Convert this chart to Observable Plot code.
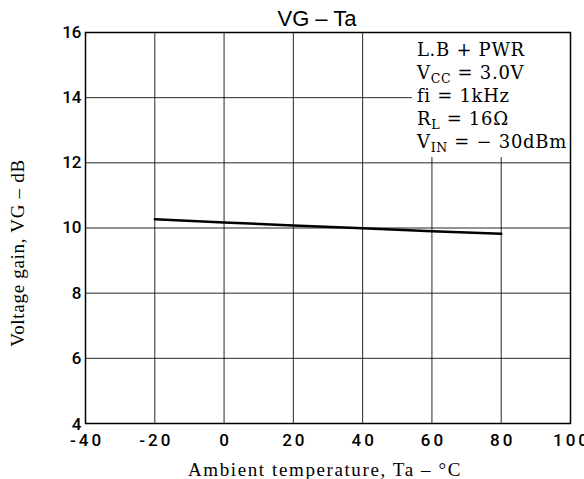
<!DOCTYPE html>
<html>
<head>
<meta charset="utf-8">
<script src="https://cdn.jsdelivr.net/npm/d3@7"></script>
<script src="https://cdn.jsdelivr.net/npm/@observablehq/plot@0.6"></script>
<style>
  html, body { margin: 0; padding: 0; background: white; }
  svg { display: block; }
</style>
</head>
<body>
<script>
// ---- data ----
const temps = [-20, 0, 20, 40, 60, 80];
const gains = [10.27, 10.17, 10.08, 9.99, 9.90, 9.82];
const xTicks = [-40, -20, 0, 20, 40, 60, 80, 100];
const yTicks = [4, 6, 8, 10, 12, 14, 16];
const titleText = "VG \u2013 Ta";
const xLabel = "Ambient temperature, Ta \u2013 \u00B0C";
const yLabel = "Voltage gain, VG \u2013 dB";
// annotation lines: [text, subscript, rest]
const annotationLines = [
  ["L.B + PWR", "", ""],
  ["V", "CC", " = 3.0V"],
  ["fi = 1kHz", "", ""],
  ["R", "L", " = 16\u03A9"],
  ["V", "IN", " = \u2212 30dBm"]
];

const serif = "'Liberation Serif', 'DejaVu Serif', serif";
const annoSerif = "'DejaVu Serif', 'Liberation Serif', serif";
const sans = "Roboto, 'DejaVu Sans', sans-serif";
const titleSans = "'Liberation Sans', Arial, sans-serif";

const data = temps.map((t, i) => ({t, g: gains[i]}));

function annotationMark(index, scales, values, dimensions) {
  const {width, marginRight, marginTop} = dimensions;
  const g = d3.create("svg:g").attr("class", "anno");
  g.append("rect").attr("fill", "white");
  const tg = g.append("g")
    .attr("font-family", annoSerif).attr("font-size", 18).attr("fill", "black")
    .attr("text-anchor", "start").style("letter-spacing", "0.7px");
  annotationLines.forEach(([a, sub, rest], i) => {
    const t = tg.append("text").attr("x", 0).attr("y", marginTop + 24 + i * 23);
    t.append("tspan").text(a);
    if (sub) {
      t.append("tspan").attr("dy", 4).attr("font-size", 12.5).text(sub);
      t.append("tspan").attr("dy", -4).text(rest);
    }
  });
  g.attr("data-right", width - marginRight).attr("data-top", marginTop);
  return g.node();
}

const chart = Plot.plot({
  width: 584,
  height: 479,
  marginLeft: 85,
  marginRight: 14,
  marginTop: 32,
  marginBottom: 56,
  style: {background: "white", color: "black"},
  x: {domain: [-40, 100], label: null},
  y: {domain: [4, 16], label: null},
  marks: [
    Plot.gridX(xTicks, {stroke: "black", strokeOpacity: 0.85, strokeWidth: 1}),
    Plot.gridY(yTicks, {stroke: "black", strokeOpacity: 0.85, strokeWidth: 1}),
    annotationMark,
    Plot.frame({stroke: "black", strokeWidth: 1.5}),
    Plot.line(data, {x: "t", y: "g", stroke: "black", strokeWidth: 2.5}),
    Plot.axisX(xTicks, {tickSize: 0, tickPadding: 10, fontSize: 17, fontWeight: 500, fontFamily: sans, tickFormat: d => String(d)}),
    Plot.axisY(yTicks, {tickSize: 0, tickPadding: 4, fontSize: 17, fontWeight: 500, fontFamily: sans}),
    Plot.text([titleText], {frameAnchor: "top", dx: -11, dy: -7, lineAnchor: "bottom", fontSize: 22, fontFamily: titleSans}),
    Plot.text([xLabel], {frameAnchor: "bottom", dx: -3, dy: 52, lineAnchor: "bottom", fontSize: 19, fontFamily: serif}),
    Plot.text([yLabel], {frameAnchor: "left", textAnchor: "middle", dx: -68, dy: 25, rotate: -90, fontSize: 19, fontFamily: serif})
  ]
});
document.body.append(chart);

// spacing tweaks
d3.select(chart).selectAll("[aria-label='x-axis tick label'] text").style("letter-spacing", "3px").attr("dx", 1.5);
d3.select(chart).selectAll("[aria-label='text'] text").filter(function() { return this.textContent === xLabel; }).style("letter-spacing", "1.6px");
d3.select(chart).selectAll("[aria-label='text'] text").filter(function() { return this.textContent === yLabel; }).style("letter-spacing", "0.7px");
d3.select(chart).selectAll("[aria-label='y-axis tick label'] text").filter(function() { return this.textContent === "4"; }).attr("dy", "0.05em");

// size the annotation box from its text
const anno = d3.select(chart).select(".anno");
const right = +anno.attr("data-right");
const top0 = +anno.attr("data-top");
let maxW = 0;
anno.selectAll("text").each(function() { maxW = Math.max(maxW, this.getBBox().width); });
const textX = right - 2 - maxW;
anno.selectAll("text").attr("x", textX);
const bb = anno.select("g").node().getBBox();
anno.select("rect")
  .attr("x", textX - 5)
  .attr("y", top0)
  .attr("width", right - (textX - 5))
  .attr("height", bb.y + bb.height + 2 - top0);
</script>
</body>
</html>
